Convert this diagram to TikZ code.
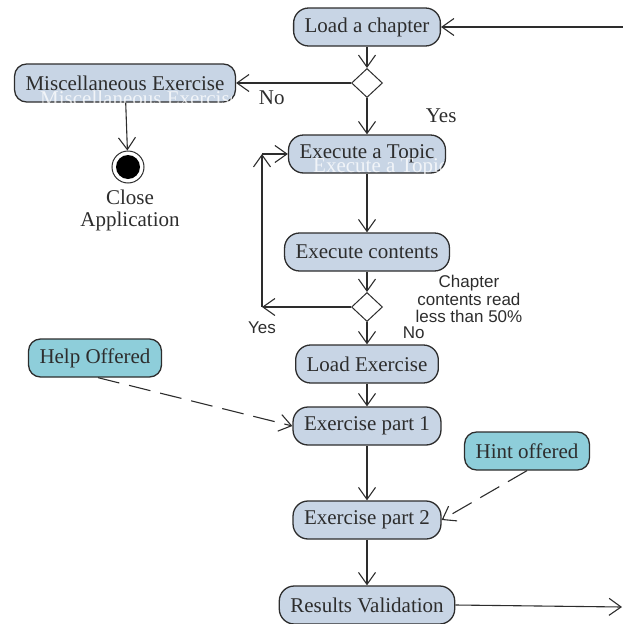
\documentclass[tikz,border=0pt]{standalone}
\usepackage{fontspec}
\setmainfont{Liberation Serif}
\setsansfont{Liberation Sans}
\usetikzlibrary{positioning,shapes.geometric,arrows.meta}

\definecolor{actfill}{RGB}{200,213,229}
\definecolor{notefill}{RGB}{142,206,218}
\definecolor{inkgray}{RGB}{45,45,45}

\begin{document}
\begin{tikzpicture}[
    x=1pt, y=1pt,
    node distance=60pt,
    font=\fontsize{21}{22}\selectfont,
    text=inkgray,
    activity/.style={
        rectangle,
        rounded corners=15pt,
        draw=inkgray,
        line width=1.3pt,
        fill=actfill,
        inner xsep=11pt,
        minimum height=38pt
    },
    hintbox/.style={
        activity,
        fill=notefill,
        rounded corners=12pt
    },
    decision/.style={
        diamond,
        draw=inkgray,
        line width=1pt,
        fill=white,
        inner sep=0pt,
        minimum width=31pt,
        minimum height=29pt
    },
    flow/.style={
        draw=inkgray, line width=1.1pt,
        -{Straight Barb[length=12pt,width=17pt]}
    },
    dflow/.style={
        flow, dash pattern=on 22pt off 10pt
    },
    sanslabel/.style={
        font=\sffamily\fontsize{17}{17.5}\selectfont,
        align=center
    },
    ghost/.style={
        text=white, text opacity=0.75, anchor=west, inner sep=0pt
    }
]
\useasboundingbox (0,0) rectangle (623,-624);

% Main column
\node [activity] (load) at (367,-27) {Load a chapter};
\node [decision, below of=load, node distance=56pt] (dec1) {};
\node [activity, below of=dec1, node distance=71pt] (topic) {Execute a Topic};
\node [activity, below of=topic, node distance=98pt] (contents) {Execute contents};
\node [decision, below of=contents, node distance=55pt] (dec2) {};
\node [activity, below of=dec2, node distance=57pt] (loadex) {Load Exercise};
\node [activity, below of=loadex, node distance=62pt] (ex1) {Exercise part 1};
\node [activity, below of=ex1, node distance=94pt] (ex2) {Exercise part 2};
\node [activity, below of=ex2, node distance=85pt] (results) {Results Validation};

% Side nodes
\node [activity, rounded corners=12pt, left of=dec1, node distance=242pt] (misc) {Miscellaneous Exercise};
\node [circle, draw=inkgray, line width=1pt, fill=white, minimum size=32pt, inner sep=0pt,
       below of=misc, node distance=84pt, xshift=3pt] (stop) {};
\node [circle, fill=black, minimum size=24pt, inner sep=0pt] (stopdot) at (stop) {};
\node [below of=stop, node distance=43pt, xshift=2pt, align=center] (closeapp) {Close\\Application};
\node [hintbox] (help) at (95,-358) {Help Offered};
\node [hintbox] (hint) at (527,-451) {Hint offered};
\node [sanslabel, right=29pt of dec2, yshift=8pt] (cond) {Chapter\\contents read\\less than 50\%};

% Faded duplicates of the labels
\begin{scope}
    \clip (misc.south west) rectangle ([xshift=-5pt]misc.north east);
    \node [ghost] (miscghost) at (40,-98) {Miscellaneous Exercise};
\end{scope}
\begin{scope}
    \clip (topic.south west) rectangle ([xshift=-3pt]topic.north east);
    \node [ghost] (topicghost) at (313,-168) {Execute a Topic};
\end{scope}

% Loop corners and open ends
\coordinate (loopbot) at (262,-307);
\coordinate (looptop) at (262,-154);
\coordinate (fromright) at (623,-27);
\coordinate (toright) at (622,-607);

% Arrows
\draw [flow] (fromright) -- (load);
\draw [flow] (load) -- (dec1);
\draw [flow] (dec1) -- node [pos=0.69, below=4pt] (nolab) {No} (misc);
\draw [flow] (dec1) -- node [right=55pt] (yeslab) {Yes} (topic);
\draw [flow] (misc) -- (stop);
\draw [flow] (topic) -- (contents);
\draw [flow] (contents) -- (dec2);
\draw [flow] (dec2) -- node [at end, below=11pt, sanslabel] (yesloop) {Yes} (loopbot);
\draw [flow] (loopbot) -- (looptop);
\draw [flow] (looptop) -- (topic.west);
\draw [flow] (dec2) -- node [right=32pt, sanslabel] (nolab2) {No} (loadex);
\draw [flow] (loadex) -- (ex1);
\draw [flow] (ex1) -- (ex2);
\draw [flow] (ex2) -- (results);
\draw [flow] (results.east) -- (toright);

\draw [dflow] ([xshift=3pt]help.south) -- (ex1.west);
\draw [dflow] (hint.south) -- (ex2.east);

\end{tikzpicture}
\end{document}
